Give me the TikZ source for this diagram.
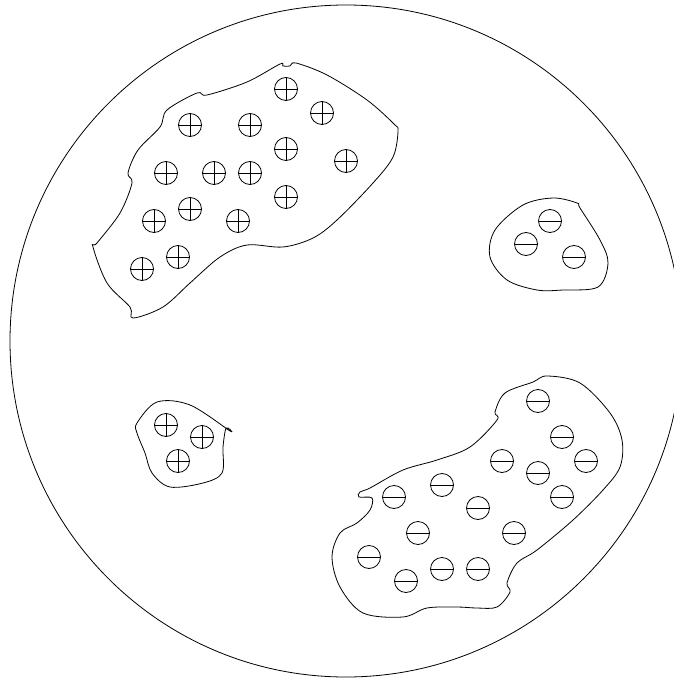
\documentclass[tikz,border=0pt]{standalone}
\usepackage{tikz}
\usetikzlibrary{calc}

\begin{document}
\begin{tikzpicture}[
    x=1pt,
    y=-1pt,
    line width=0.8pt,
    blob/.style={draw=black,line width=0.8pt},
    charge/.style={circle,draw=black,line width=0.8pt,inner sep=0pt,
                   minimum size=23pt},
    poscharge/.style={charge,path picture={
        \draw ($(path picture bounding box.north)$) -- (path picture bounding box.south);
        \draw (path picture bounding box.west) -- (path picture bounding box.east);}},
    negcharge/.style={charge,path picture={
        \draw (path picture bounding box.west) -- (path picture bounding box.east);}}
]

\useasboundingbox (0,0) rectangle (673,679);

% outer disc
\coordinate (centre) at (346,341);
\draw (centre) circle[radius=336];

% positive region, upper left
\draw[blob] plot[smooth cycle,tension=0.55] coordinates {
    (280,64) (283,66) (290,66) (296,63) (327,75) (367,100) (394,124)
    (398,131) (393,157) (373,183) (337,220) (313,238) (283,247)
    (247,245) (220,257) (190,283) (163,307) (133,318) (130,307)
    (107,283) (93,247) (97,243) (120,213) (132,183) (128,173)
    (138,150) (160,127) (167,110) (197,93) (207,95) (247,82)};

% small positive region
\draw[blob] plot[smooth cycle,tension=0.55] coordinates {
    (137,423) (157,402) (190,405) (230,431) (226,428) (223,447)
    (222,473) (203,483) (170,487) (152,473) (145,453) (137,433)};

% negative region, right
\draw[blob] plot[smooth cycle,tension=0.55] coordinates {
    (577,203) (580,208) (600,240) (608,263) (598,287) (563,290)
    (537,290) (507,280) (490,257) (495,230) (523,205) (553,198)};

% negative region, lower right
\draw[blob] plot[smooth cycle,tension=0.55] coordinates {
    (505,393) (533,382) (547,376) (580,383) (610,413) (622,440)
    (620,467) (603,490) (573,520) (537,550) (517,563) (507,583)
    (510,592) (497,607) (477,608) (457,607) (427,608) (403,617)
    (363,613) (340,587) (332,557) (340,533) (357,523) (370,510)
    (372,498) (359,497) (360,492) (370,488) (403,470) (437,460)
    (470,447) (497,420) (495,412)};

% charges
\foreach \x/\y [count=\i] in {286/89,322/113,190/125,250/125,286/149,
    346/161,166/173,214/173,250/173,286/197,190/209,154/221,238/221,
    178/257,142/269,166/425,202/437,178/461}
    \node[poscharge] (p\i) at (\x,\y) {};

\foreach \x/\y [count=\i] in {550/221,526/244,574/257,538/401,562/437,
    502/461,586/461,538/473,562/497,442/485,394/497,478/508,418/533,
    514/533,369/557,442/569,478/569,406/581}
    \node[negcharge] (n\i) at (\x,\y) {};

\end{tikzpicture}
\end{document}
